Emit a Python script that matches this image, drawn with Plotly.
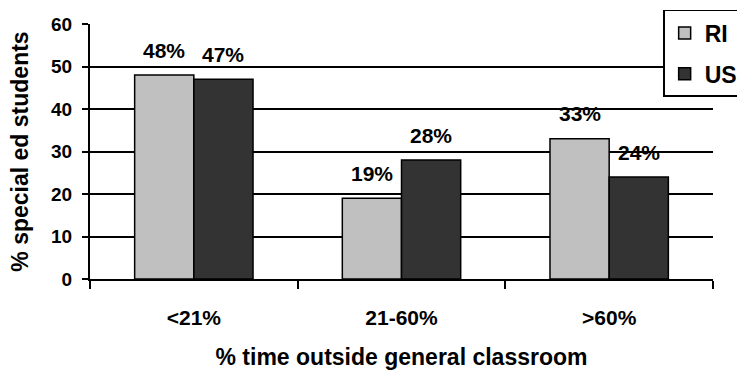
import plotly.graph_objects as go

categories = ["<21%", "21-60%", ">60%"]
ri_values = [48, 19, 33]
us_values = [47, 28, 24]
series_names = ["RI", "US"]
y_ticks = [0, 10, 20, 30, 40, 50, 60]

FONT = "Liberation Sans, Arial, sans-serif"

fig = go.Figure()
fig.add_trace(go.Bar(x=categories, y=ri_values, name=series_names[0],
                     marker=dict(color="#C0C0C0", line=dict(color="black", width=1.5)),
                     legendgroup="a"))
fig.add_trace(go.Bar(x=categories, y=us_values, name=series_names[1],
                     marker=dict(color="#333333", line=dict(color="black", width=1.5)),
                     legendgroup="b"))

annotations = []
for vals, shift in ((ri_values, -29.5), (us_values, 29.5)):
    for c, v in zip(categories, vals):
        annotations.append(dict(x=c, y=v, text=f"{v}%", showarrow=False,
                                xshift=shift, yshift=25, yanchor="middle",
                                font=dict(family=FONT, size=21, color="black", weight="bold")))

fig.update_layout(
    width=737, height=371,
    margin=dict(l=90, r=24, t=24, b=92, autoexpand=False),
    paper_bgcolor="white", plot_bgcolor="white",
    barmode="group", bargap=0.43, bargroupgap=0,
    font=dict(family=FONT, size=19, color="black", weight="bold"),
    annotations=annotations,
    legend=dict(x=0.92, xanchor="left", y=1.055, yanchor="top",
                bordercolor="black", borderwidth=1.5, bgcolor="white",
                font=dict(family=FONT, size=23, color="black", weight="bold"),
                traceorder="grouped", tracegroupgap=8,
                itemwidth=30),
    xaxis=dict(showline=True, linecolor="black", linewidth=2,
               ticks="outside", tickson="boundaries", ticklen=8, tickwidth=2,
               tickcolor="black", showgrid=False,
               tickfont=dict(family=FONT, size=21, color="black", weight="bold"),
               ticklabelstandoff=19,
               title=dict(text="% time outside general classroom",
                          font=dict(family=FONT, size=23, weight="bold"), standoff=21)),
    yaxis=dict(range=[0, 60], tickvals=y_ticks, showline=True, linecolor="black",
               linewidth=2, ticks="outside", ticklen=6, tickwidth=2, tickcolor="black",
               showgrid=True, gridcolor="black", gridwidth=1.5, zeroline=False,
               tickfont=dict(family=FONT, size=19, color="black", weight="bold"),
               ticklabelstandoff=6,
               title=dict(text="% special ed students",
                          font=dict(family=FONT, size=23, weight="bold"), standoff=16)),
)

fig.write_html("out.html")
